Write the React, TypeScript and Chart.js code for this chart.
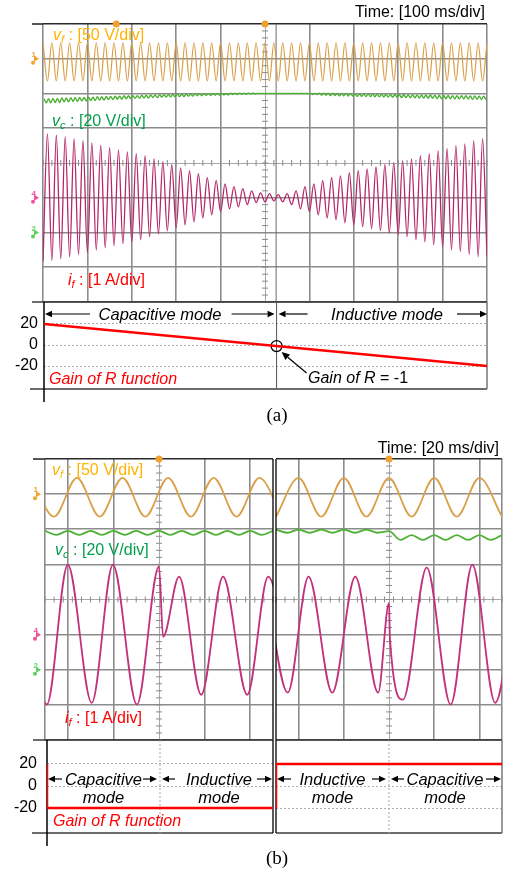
import React, { useEffect, useRef } from "react";
import { Chart, registerables } from "chart.js";

Chart.register(...registerables);
const FONT = "'Liberation Sans', Arial, Helvetica, sans-serif";
Chart.defaults.font.family = FONT;

// ================= Panel (a): Time 100 ms/div (0..1000 ms), one entry per 20 ms cycle =================
const cycleMsA = 20;
const vfPeaksA = [23, 23, 23, 23, 23, 23, 23, 23, 23, 23, 23, 23, 23, 23, 23, 23, 23, 23, 23, 23, 23, 23, 23, 23, 23,
  23, 23, 23, 23, 23, 23, 23, 23, 23, 23, 23, 23, 23, 23, 23, 23, 23, 23, 23, 23, 23, 23, 23, 23, 23];
const vfTroughsA = [-32, -32, -32, -32, -32, -32, -32, -32, -32, -32, -32, -32, -32, -32, -32, -32, -32, -32, -32, -32,
  -32, -32, -32, -32, -32, -32, -32, -32, -32, -32, -32, -32, -32, -32, -32, -32, -32, -32, -32, -32, -32, -32, -32, -32,
  -32, -32, -32, -32, -32, -32];
const vcLevelA = [75.8, 76.0, 76.3, 76.5, 76.7, 76.9, 77.2, 77.4, 77.6, 77.9,
  78.0, 78.2, 78.4, 78.6, 78.8, 78.9, 79.1, 79.3, 79.4, 79.5,
  79.6, 79.8, 79.9, 80.0, 80.0, 80.0, 80.0, 80.0, 80.0, 80.0,
  79.7, 79.6, 79.5, 79.4, 79.3, 79.1, 79.0, 78.9, 78.8, 78.6,
  78.5, 78.4, 78.3, 78.2, 78.0, 77.9, 77.8, 77.8, 77.6, 77.5];
const vcRippleA = [1.2, 1.2, 1.1, 1.1, 1.0, 1.0, 1.0, 0.9, 0.9, 0.9,
  0.8, 0.8, 0.8, 0.7, 0.7, 0.7, 0.6, 0.6, 0.5, 0.5,
  0.4, 0.4, 0.3, 0.2, 0.1, 0.1, 0.1, 0.1, 0.1, 0.1,
  0.3, 0.6, 0.7, 0.7, 0.7, 0.7, 0.8, 0.8, 0.8, 0.8,
  0.9, 0.9, 0.9, 0.9, 1.0, 1.0, 1.0, 1.0, 1.0, 1.0];
const ifEnvelopeA = [1.84, 1.81, 1.76, 1.70, 1.64, 1.58, 1.51, 1.44, 1.38, 1.32,
  1.27, 1.21, 1.12, 1.04, 0.95, 0.86, 0.78, 0.69, 0.58, 0.49,
  0.40, 0.32, 0.26, 0.20, 0.14, 0.12, 0.09, 0.12, 0.20, 0.32,
  0.40, 0.49, 0.58, 0.63, 0.72, 0.78, 0.83, 0.89, 0.95, 1.01,
  1.06, 1.12, 1.21, 1.27, 1.35, 1.41, 1.50, 1.55, 1.64, 1.70];
const gainTimeA = [0, 1000];
const gainValueA = [20, -20];
const unityGainA = [{ x: 525, y: -1 }];
const gainTickValues = [-20, 0, 20];

// ================= Panel (b): Time 20 ms/div, two 100 ms windows centred on the mode change =================
const vfTimeBL = [-56, -46, -36, -26, -16, -6, 4, 14, 24, 34, 44, 54];
const vfValueBL = [23, -32, 23, -32, 23, -32, 23, -32, 23, -32, 23, -32];
const vfTimeBR = [-50, -40, -30, -20, -10, 0, 10, 20, 30, 40, 50];
const vfValueBR = [-32, 23, -32, 23, -32, 23, -32, 23, -32, 23, -32];
const vcTimeB = [-50, -45, -40, -35, -30, -25, -20, -15, -10, -5, 0, 5, 10, 15, 20, 25, 30, 35, 40, 45, 50];
const vcValueBL = [79.1, 76.8, 79.1, 76.8, 79.1, 76.8, 79.1, 76.8, 79.1, 76.8, 79.1, 76.8, 79.1, 76.8, 79.1, 76.8, 79.1, 76.8, 79.1, 76.8, 79.1];
const vcValueBR = [79.8, 78.0, 79.8, 78.0, 79.8, 78.0, 79.8, 78.0, 79.8, 78.0, 78.9, 74.0, 76.7, 73.9, 76.7, 73.9, 76.7, 73.9, 76.7, 73.9, 76.7];
const ifTimeBL = [-59.3, -49.2, -40.0, -29.5, -20.2, -9.7, 0.0, 1.8, 8.8, 18.5, 28.1, 38.7, 47.9, 58.5];
const ifValueBL = [1.99, -1.99, 1.99, -1.94, 1.99, -1.99, 1.94, -0.06, 1.65, -1.71, 1.65, -1.71, 1.65, -1.71];
const ifTimeBR = [-54.9, -44.8, -35.6, -25.1, -14.9, -4.8, 0.0, 0.4, 6.2, 16.7, 27.3, 36.9, 47.0, 57.1];
const ifValueBR = [1.65, -1.65, 1.65, -1.65, 1.65, -1.65, 0.9, -0.1, -1.85, 1.91, -1.99, 1.99, -1.94, 1.99];
const gainTimeB = [-50, 0, 50];
const gainValueBL = [20, -20, -20];
const gainValueBR = [-20, 20, 20];

// scope channel settings (units per division, ground marker position in divisions)
const CH_VF = { perDiv: 50, offsetDiv: 3 };
const CH_VC = { perDiv: 20, offsetDiv: -2 };
const CH_IF = { perDiv: 1, offsetDiv: -1 };

const COL_VF = "#d9a048";
const COL_VC = "#4cb034";
const COL_IF = "#b5266c";

const zip = (xs: number[], ys: number[]) => xs.map((x, i) => ({ x, y: ys[i] }));
const toDiv = (pts: any[], ch: any) => pts.map((p) => ({ x: p.x, y: p.y / ch.perDiv + ch.offsetDiv }));

function buildVfA() {
  const pts: any[] = [];
  vfPeaksA.forEach((p, k) => {
    pts.push({ x: k * cycleMsA, y: p });
    pts.push({ x: k * cycleMsA + cycleMsA / 2, y: vfTroughsA[k] });
  });
  pts.push({ x: vfPeaksA.length * cycleMsA, y: vfPeaksA[vfPeaksA.length - 1] });
  return pts;
}
function buildIfA() {
  const pts: any[] = [];
  ifEnvelopeA.forEach((a, k) => {
    pts.push({ x: k * cycleMsA, y: -a });
    pts.push({ x: k * cycleMsA + cycleMsA / 2, y: a });
  });
  pts.push({ x: ifEnvelopeA.length * cycleMsA, y: -ifEnvelopeA[ifEnvelopeA.length - 1] });
  return pts;
}
function buildVcA() {
  const pts: any[] = [];
  vcLevelA.forEach((lvl, k) => {
    const r = vcRippleA[k];
    [0.125, 0.375, 0.625, 0.875].forEach((f, j) => {
      pts.push({ x: (k + f) * cycleMsA, y: j % 2 === 0 ? lvl + r : lvl - r });
    });
  });
  return pts;
}

const trace = (data: any[], color: string, width: number) => ({
  data,
  borderColor: color,
  borderWidth: width,
  pointRadius: 0,
  fill: false,
  cubicInterpolationMode: "monotone",
});

function seg(ctx: any, x1: number, y1: number, x2: number, y2: number) {
  ctx.beginPath();
  ctx.moveTo(x1, y1);
  ctx.lineTo(x2, y2);
  ctx.stroke();
}
function arrow(ctx: any, fx: number, fy: number, tx: number, ty: number, len = 7, half = 3.2) {
  const ang = Math.atan2(ty - fy, tx - fx);
  const bx = tx - len * Math.cos(ang);
  const by = ty - len * Math.sin(ang);
  seg(ctx, fx, fy, bx, by);
  ctx.beginPath();
  ctx.moveTo(tx, ty);
  ctx.lineTo(bx + half * Math.sin(ang), by - half * Math.cos(ang));
  ctx.lineTo(bx - half * Math.sin(ang), by + half * Math.cos(ang));
  ctx.closePath();
  ctx.fill();
}
function centerTicks(chart: any, xCenter: number, xMin: number, xMax: number, xStep: number) {
  const { ctx, scales } = chart;
  const x = scales.x, y = scales.y;
  const cx = x.getPixelForValue(xCenter);
  const cy = y.getPixelForValue(0);
  ctx.save();
  ctx.strokeStyle = "#8a8a8a";
  ctx.lineWidth = 1;
  for (let i = -20; i <= 20; i++) {
    const py = y.getPixelForValue(i / 5);
    seg(ctx, cx - 3, py, cx + 3, py);
  }
  const n = Math.round((xMax - xMin) / xStep);
  for (let i = 0; i <= n; i++) {
    const px = x.getPixelForValue(xMin + i * xStep);
    seg(ctx, px, cy - 3, px, cy + 3);
  }
  ctx.restore();
}
function chMarker(ctx: any, x: number, y: number, label: string, color: string) {
  ctx.save();
  ctx.fillStyle = color;
  ctx.font = "bold 8px " + FONT;
  ctx.textAlign = "right";
  ctx.textBaseline = "bottom";
  ctx.fillText(label, x - 3, y);
  ctx.beginPath();
  ctx.moveTo(x, y);
  ctx.lineTo(x - 5, y - 3);
  ctx.lineTo(x - 5, y + 3);
  ctx.closePath();
  ctx.fill();
  ctx.beginPath();
  ctx.arc(x - 6, y + 4, 2, 0, Math.PI * 2);
  ctx.fill();
  ctx.restore();
}
function trigMarker(ctx: any, x: number, y: number) {
  ctx.save();
  ctx.fillStyle = "#f0a030";
  ctx.beginPath();
  ctx.arc(x, y, 3.5, 0, Math.PI * 2);
  ctx.fill();
  ctx.restore();
}

function scopeConfig(o: any) {
  const isC = (c: any, v: number) => c.tick && Math.abs(c.tick.value - v) < 1e-9;
  return {
    type: "line",
    data: { datasets: o.datasets },
    options: {
      animation: false,
      responsive: false,
      events: [],
      layout: { padding: o.padding },
      plugins: { legend: { display: false }, tooltip: { enabled: false } },
      scales: {
        x: {
          type: "linear",
          min: o.xMin,
          max: o.xMax,
          afterBuildTicks: (s: any) => {
            s.ticks = o.xGrid.map((v: number) => ({ value: v }));
          },
          ticks: { display: false },
          grid: {
            drawTicks: false,
            color: (c: any) => (isC(c, o.xCenter) ? "#a8a8a8" : "#8c8c8c"),
            lineWidth: (c: any) => (isC(c, o.xCenter) ? 1 : 1.6),
          },
          border: { display: false },
        },
        y: {
          type: "linear",
          min: -4,
          max: 4,
          afterBuildTicks: (s: any) => {
            s.ticks = [-4, -3, -2, -1, 0, 1, 2, 3, 4].map((v) => ({ value: v }));
          },
          ticks: { display: false },
          grid: {
            drawTicks: false,
            color: (c: any) => (isC(c, 4) ? "#2a2a2a" : isC(c, -4) ? "#555" : isC(c, 0) ? "#a8a8a8" : "#8c8c8c"),
            lineWidth: (c: any) => (isC(c, 0) ? 1 : 1.6),
          },
          border: { display: false },
        },
      },
    },
    plugins: [{ id: "scopeExtras", beforeDatasetsDraw: o.under, afterDraw: o.over }],
  };
}

function gainConfig(o: any) {
  return {
    type: "line",
    data: { datasets: o.datasets },
    options: {
      animation: false,
      responsive: false,
      events: [],
      layout: { padding: o.padding },
      plugins: { legend: { display: false }, tooltip: { enabled: false } },
      scales: {
        x: {
          type: "linear",
          display: false,
          min: o.xMin,
          max: o.xMax,
        },
        y: {
          type: "linear",
          min: o.yMin,
          max: o.yMax,
          afterBuildTicks: (s: any) => {
            s.ticks = gainTickValues.map((v) => ({ value: v }));
          },
          afterFit: (s: any) => {
            s.width = o.axisWidth;
          },
          ticks: { display: o.showLabels, padding: o.labelPad, color: "#000", font: { size: 16, family: FONT } },
          grid: { drawTicks: false, color: "#b0b0b0", lineWidth: 1 },
          border: { display: false, dash: [2, 2] },
        },
      },
    },
    plugins: [{ id: "gainExtras", beforeDatasetsDraw: o.under }],
  };
}

function useChart(ref: any, make: () => any) {
  useEffect(() => {
    const chart = new Chart(ref.current, make());
    return () => chart.destroy();
  }, []);
}

const Sub = ({ children }: any) => (
  <sub style={{ fontSize: "0.7em", verticalAlign: "-0.3em", lineHeight: 0 }}>{children}</sub>
);

const Txt = ({ x, y, align = "left", children, style }: any) => {
  const tx = align === "right" ? "-100%" : align === "center" ? "-50%" : "0";
  return (
    <div
      style={{
        position: "absolute",
        left: x,
        top: y,
        transform: `translate(${tx}, -50%)`,
        whiteSpace: "nowrap",
        lineHeight: 1,
        fontSize: 16,
        ...style,
      }}
    >
      {children}
    </div>
  );
};

export default function App() {
  const scopeARef = useRef<HTMLCanvasElement>(null);
  const gainARef = useRef<HTMLCanvasElement>(null);
  const scopeBLRef = useRef<HTMLCanvasElement>(null);
  const scopeBRRef = useRef<HTMLCanvasElement>(null);
  const gainBLRef = useRef<HTMLCanvasElement>(null);
  const gainBRRef = useRef<HTMLCanvasElement>(null);

  // ---------- (a) oscilloscope ----------
  useChart(scopeARef, () =>
    scopeConfig({
      padding: { left: 43, top: 24, right: 21, bottom: 8 },
      xMin: 0,
      xMax: 1000,
      xCenter: 500,
      xGrid: [0, 100, 200, 300, 400, 500, 600, 700, 800, 900, 1000],
      datasets: [
        trace(toDiv(buildVfA(), CH_VF), COL_VF, 1.2),
        trace(toDiv(buildVcA(), CH_VC), COL_VC, 1.4),
        trace(toDiv(buildIfA(), CH_IF), COL_IF, 1.3),
      ],
      under: (chart: any) => {
        const { ctx, chartArea: a, scales } = chart;
        centerTicks(chart, 500, 0, 1000, 20);
        ctx.save();
        ctx.strokeStyle = "#6a6a6a";
        ctx.lineWidth = 1;
        const bx = scales.x.getPixelForValue(unityGainA[0].x);
        seg(ctx, bx, a.top, bx, a.bottom);
        ctx.strokeStyle = "#2a2a2a";
        ctx.lineWidth = 1.6;
        seg(ctx, 32, a.top, a.left, a.top);
        ctx.restore();
      },
      over: (chart: any) => {
        const { ctx, chartArea: a, scales } = chart;
        const y = scales.y;
        chMarker(ctx, a.left - 4, y.getPixelForValue(CH_VF.offsetDiv), "1", "#f2a22e");
        chMarker(ctx, a.left - 4, y.getPixelForValue(CH_IF.offsetDiv), "4", "#f0509c");
        chMarker(ctx, a.left - 4, y.getPixelForValue(CH_VC.offsetDiv), "2", "#5cd05c");
        trigMarker(ctx, scales.x.getPixelForValue(500), a.top);
        trigMarker(ctx, scales.x.getPixelForValue(165), a.top);
      },
    })
  );

  // ---------- (a) gain of R ----------
  useChart(gainARef, () =>
    gainConfig({
      padding: { left: 0, top: 22, right: 21, bottom: 26 },
      xMin: 0,
      xMax: 1000,
      yMin: -41.9,
      yMax: 40.95,
      axisWidth: 44,
      labelPad: 6,
      showLabels: true,
      datasets: [
        { ...trace(zip(gainTimeA, gainValueA), "#ff0000", 2.5), cubicInterpolationMode: "default", tension: 0 },
        {
          data: unityGainA,
          showLine: false,
          pointRadius: 5.5,
          pointStyle: "circle",
          pointBackgroundColor: "rgba(0,0,0,0)",
          pointBorderColor: "#000",
          pointBorderWidth: 1.3,
        },
      ],
      under: (chart: any) => {
        const { ctx, chartArea: a, scales } = chart;
        ctx.save();
        ctx.lineWidth = 1.5;
        ctx.strokeStyle = "#3c3c3c";
        seg(ctx, 32, a.top, a.right, a.top);
        seg(ctx, 30, a.bottom, a.right, a.bottom);
        ctx.strokeStyle = "#777";
        seg(ctx, a.right, a.top, a.right, a.bottom);
        ctx.strokeStyle = "#000";
        seg(ctx, a.left, a.top, a.left, a.bottom + 13);
        const bx = scales.x.getPixelForValue(unityGainA[0].x);
        ctx.strokeStyle = "#555";
        ctx.lineWidth = 1;
        seg(ctx, bx, a.top, bx, a.bottom);
        ctx.strokeStyle = "#000";
        ctx.fillStyle = "#000";
        ctx.lineWidth = 1.2;
        const ay = a.top + 12;
        arrow(ctx, a.left + 46, ay, a.left + 1, ay);
        arrow(ctx, bx - 45, ay, bx - 2, ay);
        arrow(ctx, bx + 31, ay, bx + 2, ay);
        arrow(ctx, a.right - 30, ay, a.right, ay);
        const cy = scales.y.getPixelForValue(unityGainA[0].y);
        arrow(ctx, bx + 30, cy + 27, bx + 5, cy + 6, 8, 3.5);
        ctx.restore();
      },
    })
  );

  // ---------- (b) oscilloscope windows ----------
  const scopeB = (side: "L" | "R") =>
    scopeConfig({
      padding: side === "L" ? { left: 45, top: 19, right: 235, bottom: 5 } : { left: 276, top: 19, right: 6, bottom: 5 },
      xMin: -50,
      xMax: 50,
      xCenter: 0,
      xGrid: side === "L" ? [-50, -40, -20, 0, 20, 40] : [-40, -20, 0, 20, 40, 50],
      datasets: [
        trace(toDiv(zip(side === "L" ? vfTimeBL : vfTimeBR, side === "L" ? vfValueBL : vfValueBR), CH_VF), COL_VF, 1.8),
        trace(toDiv(zip(vcTimeB, side === "L" ? vcValueBL : vcValueBR), CH_VC), COL_VC, 1.8),
        trace(toDiv(zip(side === "L" ? ifTimeBL : ifTimeBR, side === "L" ? ifValueBL : ifValueBR), CH_IF), "#c2317a", 1.8),
      ],
      under: (chart: any) => {
        const { ctx, chartArea: a } = chart;
        centerTicks(chart, 0, -50, 50, 4);
        if (side === "L") {
          ctx.save();
          ctx.strokeStyle = "#2a2a2a";
          ctx.lineWidth = 1.6;
          seg(ctx, 33, a.top, a.left, a.top);
          ctx.restore();
        }
      },
      over: (chart: any) => {
        const { ctx, chartArea: a, scales } = chart;
        ctx.save();
        ctx.strokeStyle = "#000";
        ctx.lineWidth = 1.3;
        const sx = side === "L" ? a.right : a.left;
        seg(ctx, sx, a.top, sx, a.bottom);
        ctx.restore();
        if (side === "L") {
          const y = scales.y;
          chMarker(ctx, a.left - 4, y.getPixelForValue(CH_VF.offsetDiv), "1", "#f2a22e");
          chMarker(ctx, a.left - 4, y.getPixelForValue(CH_IF.offsetDiv), "4", "#f0509c");
          chMarker(ctx, a.left - 4, y.getPixelForValue(CH_VC.offsetDiv), "2", "#5cd05c");
        }
        trigMarker(ctx, scales.x.getPixelForValue(0), a.top);
      },
    });
  useChart(scopeBLRef, () => scopeB("L"));
  useChart(scopeBRRef, () => scopeB("R"));

  // ---------- (b) gain windows ----------
  const gainB = (side: "L" | "R") =>
    gainConfig({
      padding: side === "L" ? { left: 0, top: 25, right: 235, bottom: 27 } : { left: 276, top: 25, right: 6, bottom: 27 },
      xMin: -50,
      xMax: 50,
      yMin: -42.7,
      yMax: 41.8,
      axisWidth: side === "L" ? 47 : 0,
      labelPad: 10,
      showLabels: side === "L",
      datasets: [
        {
          ...trace(zip(gainTimeB, side === "L" ? gainValueBL : gainValueBR), "#ff0000", 2.5),
          cubicInterpolationMode: "default",
          tension: 0,
          stepped: "after",
        },
      ],
      under: (chart: any) => {
        const { ctx, chartArea: a, scales } = chart;
        ctx.save();
        ctx.lineWidth = 1.5;
        ctx.strokeStyle = "#3c3c3c";
        seg(ctx, side === "L" ? 33 : a.left, a.top, a.right, a.top);
        seg(ctx, side === "L" ? 32 : a.left, a.bottom, a.right, a.bottom);
        if (side === "L") {
          ctx.strokeStyle = "#000";
          seg(ctx, a.left, a.top, a.left, a.bottom + 13);
        } else {
          ctx.strokeStyle = "#777";
          seg(ctx, a.right, a.top, a.right, a.bottom);
        }
        ctx.strokeStyle = "#000";
        ctx.lineWidth = 1.3;
        const sx = side === "L" ? a.right : a.left;
        seg(ctx, sx, a.top, sx, a.bottom);
        const cx = scales.x.getPixelForValue(0);
        ctx.strokeStyle = "#a8a8a8";
        ctx.lineWidth = 1;
        ctx.setLineDash([2, 2]);
        seg(ctx, cx, a.top, cx, a.bottom);
        ctx.setLineDash([]);
        ctx.strokeStyle = "#000";
        ctx.fillStyle = "#000";
        ctx.lineWidth = 1.2;
        const ay = a.top + 39;
        arrow(ctx, a.left + 15, ay, a.left + 1, ay);
        arrow(ctx, cx - 17, ay, cx - 3, ay);
        arrow(ctx, cx + 15, ay, cx + 2, ay);
        arrow(ctx, a.right - 16, ay, a.right - 1, ay);
        ctx.restore();
      },
    });
  useChart(gainBLRef, () => gainB("L"));
  useChart(gainBRRef, () => gainB("R"));

  const cv = (top: number): any => ({ position: "absolute", left: 0, top });
  const red = "#ff0000";
  const orange = "#ffb400";
  const green = "#00a04c";

  return (
    <div
      style={{
        position: "absolute",
        left: 0,
        top: 0,
        width: 508,
        height: 872,
        background: "#fff",
        fontFamily: FONT,
        color: "#000",
        overflow: "hidden",
      }}
    >
      <canvas ref={scopeARef} width={508} height={310} style={cv(0)} />
      <canvas ref={gainARef} width={508} height={135} style={cv(280)} />
      <canvas ref={scopeBLRef} width={508} height={305} style={cv(440)} />
      <canvas ref={scopeBRRef} width={508} height={305} style={cv(440)} />
      <canvas ref={gainBLRef} width={508} height={145} style={cv(715)} />
      <canvas ref={gainBRRef} width={508} height={145} style={cv(715)} />

      {/* (a) labels */}
      <Txt x={485} y={12} align="right">Time: [100 ms/div]</Txt>
      <Txt x={53} y={35} style={{ color: orange }}>
        <i>v</i><Sub><i>f</i></Sub> : [50 V/div]
      </Txt>
      <Txt x={52} y={121} style={{ color: green }}>
        <i>v</i><Sub><i>c</i></Sub> : [20 V/div]
      </Txt>
      <Txt x={68} y={280} style={{ color: red }}>
        <i>i</i><Sub><i>f</i></Sub> : [1 A/div]
      </Txt>
      <Txt x={160} y={314} align="center" style={{ fontStyle: "italic", fontSize: 16.5 }}>Capacitive mode</Txt>
      <Txt x={387} y={314} align="center" style={{ fontStyle: "italic", fontSize: 16.5 }}>Inductive mode</Txt>
      <Txt x={49} y={379} style={{ fontStyle: "italic", color: red }}>Gain of R function</Txt>
      <Txt x={308} y={378}>
        <i>Gain of R</i> = -1
      </Txt>
      <Txt x={277} y={414} align="center" style={{ fontFamily: "'Liberation Serif', 'Times New Roman', serif", fontSize: 19 }}>(a)</Txt>

      {/* (b) labels */}
      <Txt x={499} y={448} align="right">Time: [20 ms/div]</Txt>
      <Txt x={52} y={470} style={{ color: orange }}>
        <i>v</i><Sub><i>f</i></Sub> : [50 V/div]
      </Txt>
      <Txt x={55} y={550} style={{ color: green }}>
        <i>v</i><Sub><i>c</i></Sub> : [20 V/div]
      </Txt>
      <Txt x={65} y={718} style={{ color: red }}>
        <i>i</i><Sub><i>f</i></Sub> : [1 A/div]
      </Txt>
      {[
        { x: 103.5, t: "Capacitive" },
        { x: 219, t: "Inductive" },
        { x: 332.5, t: "Inductive" },
        { x: 445, t: "Capacitive" },
      ].map((m, i) => (
        <React.Fragment key={i}>
          <Txt x={m.x} y={779} align="center" style={{ fontStyle: "italic", fontSize: 16.5 }}>{m.t}</Txt>
          <Txt x={m.x} y={797} align="center" style={{ fontStyle: "italic", fontSize: 16.5 }}>mode</Txt>
        </React.Fragment>
      ))}
      <Txt x={53} y={821} style={{ fontStyle: "italic", color: red }}>Gain of R function</Txt>
      <Txt x={277} y={857} align="center" style={{ fontFamily: "'Liberation Serif', 'Times New Roman', serif", fontSize: 19 }}>(b)</Txt>
    </div>
  );
}
